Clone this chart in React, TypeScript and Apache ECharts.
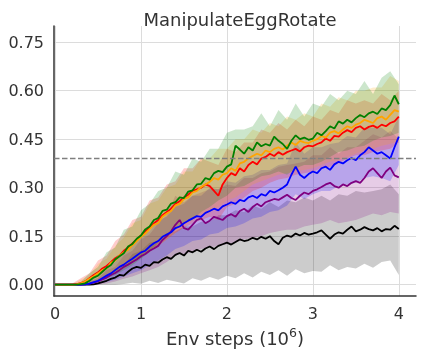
import React, { useEffect, useRef } from 'react';
import * as echarts from 'echarts';

const xTicks = [0, 1, 2, 3, 4];
const yTicks = [0, 0.15, 0.3, 0.45, 0.6, 0.75];
const threshold = 0.39;
const xMax = 4;

// mean curves, 81 samples from 0 to 4 (step 0.05)
const greenMean = [0,0,0,0,0,0,0.002,0.004,0.012,0.022,0.028,0.04,0.052,0.061,0.078,0.088,0.097,0.118,0.126,0.142,0.152,0.171,0.18,0.2,0.206,0.228,0.232,0.251,0.255,0.27,0.268,0.288,0.292,0.31,0.312,0.33,0.325,0.345,0.352,0.348,0.365,0.372,0.43,0.418,0.405,0.425,0.415,0.44,0.428,0.435,0.43,0.458,0.445,0.435,0.42,0.445,0.462,0.45,0.455,0.448,0.452,0.47,0.462,0.475,0.49,0.483,0.505,0.498,0.51,0.502,0.515,0.525,0.518,0.53,0.535,0.528,0.545,0.54,0.555,0.585,0.558];
const orangeMean = [0,0,0,0,0,0.001,0.004,0.01,0.018,0.026,0.035,0.045,0.05,0.068,0.075,0.09,0.1,0.108,0.122,0.135,0.148,0.158,0.172,0.185,0.19,0.21,0.22,0.228,0.245,0.25,0.265,0.27,0.285,0.29,0.302,0.31,0.318,0.33,0.325,0.34,0.345,0.36,0.352,0.375,0.38,0.39,0.398,0.405,0.4,0.415,0.41,0.42,0.425,0.418,0.43,0.44,0.432,0.445,0.44,0.438,0.445,0.45,0.46,0.455,0.47,0.475,0.468,0.48,0.49,0.485,0.495,0.5,0.51,0.505,0.5,0.515,0.52,0.51,0.525,0.54,0.535];
const redMean = [0,0,0,0,0,0.002,0.005,0.01,0.02,0.03,0.038,0.05,0.058,0.07,0.082,0.09,0.105,0.115,0.128,0.14,0.152,0.165,0.175,0.19,0.2,0.215,0.225,0.235,0.25,0.258,0.27,0.278,0.29,0.295,0.3,0.31,0.305,0.29,0.275,0.31,0.33,0.345,0.338,0.36,0.35,0.37,0.38,0.372,0.39,0.395,0.405,0.398,0.41,0.402,0.41,0.415,0.42,0.412,0.425,0.43,0.428,0.435,0.44,0.452,0.445,0.46,0.458,0.47,0.478,0.472,0.485,0.49,0.48,0.488,0.492,0.485,0.495,0.49,0.5,0.505,0.52];
const blueMean = [0,0,0,0,0,0,0,0.001,0.003,0.008,0.012,0.02,0.028,0.035,0.045,0.055,0.062,0.072,0.08,0.09,0.1,0.105,0.118,0.128,0.135,0.148,0.155,0.162,0.175,0.18,0.19,0.198,0.205,0.212,0.21,0.222,0.228,0.235,0.23,0.242,0.248,0.255,0.25,0.262,0.258,0.27,0.275,0.268,0.28,0.275,0.29,0.285,0.292,0.3,0.31,0.34,0.365,0.34,0.33,0.342,0.35,0.345,0.36,0.365,0.355,0.372,0.38,0.375,0.385,0.392,0.385,0.4,0.41,0.425,0.415,0.405,0.41,0.4,0.39,0.425,0.458];
const purpleMean = [0,0,0,0,0,0,0,0.001,0.003,0.006,0.01,0.016,0.022,0.03,0.036,0.045,0.055,0.062,0.07,0.078,0.088,0.095,0.105,0.112,0.12,0.138,0.15,0.165,0.185,0.2,0.175,0.17,0.185,0.2,0.205,0.19,0.198,0.21,0.205,0.2,0.212,0.218,0.21,0.228,0.235,0.225,0.24,0.25,0.242,0.255,0.26,0.265,0.262,0.27,0.278,0.268,0.262,0.275,0.285,0.28,0.29,0.295,0.302,0.31,0.315,0.305,0.3,0.31,0.305,0.315,0.32,0.315,0.33,0.35,0.36,0.345,0.33,0.35,0.362,0.338,0.332];
const blackMean = [0,0,0,0,0,0,0,0,0,0.001,0.004,0.008,0.012,0.018,0.022,0.03,0.028,0.04,0.05,0.055,0.052,0.062,0.058,0.07,0.068,0.078,0.085,0.08,0.092,0.098,0.09,0.105,0.1,0.108,0.102,0.112,0.118,0.11,0.12,0.125,0.13,0.124,0.132,0.14,0.135,0.138,0.145,0.14,0.148,0.142,0.15,0.135,0.125,0.145,0.152,0.148,0.158,0.152,0.16,0.155,0.158,0.162,0.168,0.155,0.142,0.155,0.162,0.158,0.17,0.18,0.165,0.17,0.178,0.172,0.168,0.175,0.165,0.172,0.17,0.182,0.172];

// shaded bands, 41 samples from 0 to 4 (step 0.1)
const greenLow = [0,0,0,0,0.002,0.01,0.02,0.03,0.045,0.06,0.08,0.1,0.13,0.15,0.17,0.19,0.2,0.225,0.24,0.26,0.275,0.3,0.305,0.32,0.335,0.34,0.35,0.34,0.36,0.37,0.37,0.38,0.395,0.41,0.415,0.425,0.43,0.445,0.455,0.46,0.47];
const greenHigh = [0,0,0,0.008,0.035,0.055,0.1,0.115,0.17,0.18,0.23,0.25,0.29,0.3,0.35,0.34,0.39,0.38,0.42,0.42,0.47,0.48,0.48,0.49,0.53,0.49,0.54,0.51,0.56,0.52,0.56,0.55,0.59,0.57,0.6,0.59,0.63,0.59,0.64,0.66,0.62];
const orangeLow = [0,0,0,0.001,0.004,0.01,0.02,0.035,0.05,0.065,0.085,0.1,0.12,0.14,0.16,0.18,0.2,0.215,0.23,0.24,0.26,0.27,0.29,0.31,0.32,0.33,0.34,0.345,0.35,0.355,0.36,0.37,0.38,0.385,0.395,0.405,0.415,0.42,0.43,0.435,0.445];
const orangeHigh = [0,0,0.002,0.015,0.03,0.065,0.08,0.12,0.145,0.19,0.2,0.25,0.26,0.3,0.31,0.35,0.35,0.39,0.39,0.42,0.42,0.45,0.45,0.48,0.47,0.5,0.49,0.52,0.51,0.53,0.52,0.56,0.55,0.58,0.57,0.6,0.6,0.61,0.61,0.645,0.63];
const redLow = [0,0,0,0.001,0.005,0.012,0.022,0.035,0.05,0.068,0.085,0.105,0.12,0.14,0.16,0.175,0.19,0.2,0.21,0.2,0.24,0.25,0.27,0.29,0.3,0.315,0.325,0.33,0.34,0.345,0.35,0.36,0.365,0.375,0.39,0.4,0.4,0.41,0.415,0.42,0.44];
const redHigh = [0,0,0.004,0.02,0.035,0.075,0.09,0.135,0.155,0.2,0.21,0.26,0.27,0.31,0.32,0.36,0.36,0.39,0.38,0.37,0.42,0.41,0.44,0.44,0.48,0.47,0.5,0.48,0.51,0.49,0.52,0.51,0.54,0.53,0.57,0.56,0.57,0.56,0.59,0.57,0.6];
const blueLow = [0,0,0,0,0,0.002,0.008,0.015,0.025,0.035,0.045,0.06,0.075,0.09,0.11,0.12,0.135,0.14,0.155,0.16,0.175,0.18,0.19,0.205,0.21,0.225,0.23,0.245,0.28,0.265,0.28,0.29,0.29,0.305,0.31,0.315,0.33,0.335,0.33,0.32,0.37];
const blueHigh = [0,0,0,0.002,0.012,0.022,0.055,0.07,0.105,0.12,0.155,0.165,0.2,0.21,0.24,0.25,0.275,0.275,0.3,0.295,0.32,0.315,0.335,0.34,0.355,0.355,0.37,0.375,0.44,0.405,0.425,0.425,0.435,0.44,0.46,0.455,0.485,0.485,0.485,0.465,0.52];
const purpleLow = [0,0,0,0,0,0,0.004,0.01,0.018,0.025,0.035,0.045,0.055,0.07,0.09,0.095,0.1,0.11,0.115,0.12,0.125,0.13,0.14,0.145,0.15,0.16,0.165,0.17,0.17,0.18,0.185,0.19,0.2,0.19,0.195,0.2,0.21,0.22,0.215,0.225,0.22];
const purpleHigh = [0,0,0,0.001,0.01,0.018,0.045,0.055,0.09,0.105,0.14,0.155,0.19,0.215,0.275,0.255,0.275,0.285,0.295,0.295,0.31,0.305,0.33,0.33,0.345,0.35,0.365,0.37,0.375,0.38,0.4,0.4,0.425,0.405,0.425,0.425,0.445,0.465,0.455,0.475,0.45];
const blackLow = [0,0,0,0,0,0,0,0,0.002,0.006,0.003,0.012,0.005,0.015,0.01,0.004,0.02,0.012,0.024,0.015,0.028,0.02,0.035,0.022,0.04,0.03,0.045,0.028,0.048,0.035,0.042,0.04,0.06,0.045,0.055,0.05,0.065,0.052,0.07,0.075,0.03];
const blackHigh = [0,0,0,0,0.001,0.012,0.022,0.05,0.06,0.095,0.105,0.13,0.135,0.16,0.165,0.18,0.18,0.195,0.195,0.215,0.215,0.23,0.225,0.245,0.235,0.255,0.24,0.26,0.255,0.27,0.26,0.275,0.26,0.28,0.275,0.29,0.285,0.29,0.295,0.31,0.28];

const methods = [
  { key: 'black', color: [0, 0, 0], mean: blackMean, low: blackLow, high: blackHigh },
  { key: 'purple', color: [128, 0, 128], mean: purpleMean, low: purpleLow, high: purpleHigh },
  { key: 'blue', color: [0, 0, 255], mean: blueMean, low: blueLow, high: blueHigh },
  { key: 'red', color: [255, 0, 0], mean: redMean, low: redLow, high: redHigh },
  { key: 'orange', color: [255, 165, 0], mean: orangeMean, low: orangeLow, high: orangeHigh },
  { key: 'green', color: [0, 128, 0], mean: greenMean, low: greenLow, high: greenHigh },
];

const xs = (arr: number[]) => arr.map((_, i) => Math.round(((i * xMax) / (arr.length - 1)) * 10000) / 10000);
const rgba = (c: number[], a: number) => `rgba(${c[0]},${c[1]},${c[2]},${a})`;

const FONT = 'DejaVu Sans';

export default function App() {
  const ref = useRef<HTMLDivElement>(null);
  useEffect(() => {
    if (!ref.current) return;
    const chart = echarts.init(ref.current, undefined, { renderer: 'svg' });
    const series: any[] = [];
    methods.forEach((m) => {
      const bx = xs(m.low);
      series.push({
        type: 'custom', name: m.key + '-band', silent: true, z: 2,
        data: m.low.map((v, i) => [bx[i], v, m.high[i]]),
        encode: { x: 0, y: [1, 2] },
        renderItem: (params: any, api: any) => {
          if (params.dataIndex !== 0) return null;
          const pts: number[][] = [];
          for (let i = 0; i < bx.length; i++) pts.push(api.coord([bx[i], m.high[i]]));
          for (let i = bx.length - 1; i >= 0; i--) pts.push(api.coord([bx[i], m.low[i]]));
          return {
            type: 'polygon', shape: { points: pts },
            style: { fill: rgba(m.color, 0.2), stroke: 'none' },
          };
        },
      });
    });
    methods.forEach((m, idx) => {
      const mx = xs(m.mean);
      const s: any = {
        type: 'line', name: m.key, symbol: 'none', silent: true,
        lineStyle: { color: rgba(m.color, 1), width: 1.8 },
        data: m.mean.map((v, i) => [mx[i], v]), z: 3,
      };
      if (idx === 0) {
        s.markLine = {
          silent: true, symbol: 'none', label: { show: false },
          lineStyle: { color: '#7f7f7f', type: [5.5, 2.5], width: 1.4 },
          data: [{ yAxis: threshold }],
        };
      }
      series.push(s);
    });

    chart.setOption({
      animation: false,
      textStyle: { fontFamily: FONT },
      title: {
        text: 'ManipulateEggRotate', left: 235, top: 5, textAlign: 'center',
        textStyle: { fontFamily: FONT, fontSize: 18, fontWeight: 'normal', color: '#333' },
      },
      grid: { left: 54, right: 7, top: 26, bottom: 61 },
      xAxis: {
        type: 'value', min: -0.012, max: 4.2,
        axisLine: { show: true, onZero: false, lineStyle: { color: '#333', width: 1.5 } },
        axisTick: { show: false, customValues: xTicks },
        axisLabel: { customValues: xTicks, fontSize: 16, color: '#333', margin: 9, fontFamily: FONT },
        splitLine: { show: true, lineStyle: { color: '#dcdcdc', width: 1 } },
        name: '{a|Env steps (10}{s|6}{a|)}', nameLocation: 'middle', nameGap: 30,
        nameTextStyle: {
          fontFamily: FONT, color: '#333',
          rich: {
            a: { fontSize: 18, fontFamily: FONT, color: '#333' },
            s: { fontSize: 12.5, fontFamily: FONT, color: '#333', padding: [0, 0, 12, 0] },
          },
        },
      },
      yAxis: {
        type: 'value', min: -0.035, max: 0.8,
        axisLine: { show: true, onZero: false, lineStyle: { color: '#333', width: 1.5 } },
        axisTick: { show: false, customValues: yTicks },
        axisLabel: {
          customValues: yTicks, fontSize: 16, color: '#333', margin: 10, fontFamily: FONT,
          formatter: (v: number) => v.toFixed(2),
        },
        splitLine: { show: true, lineStyle: { color: '#dcdcdc', width: 1 } },
      },
      series,
    });
    return () => chart.dispose();
  }, []);
  return <div ref={ref} style={{ position: 'fixed', left: 0, top: 0, width: 423, height: 357 }} />;
}
